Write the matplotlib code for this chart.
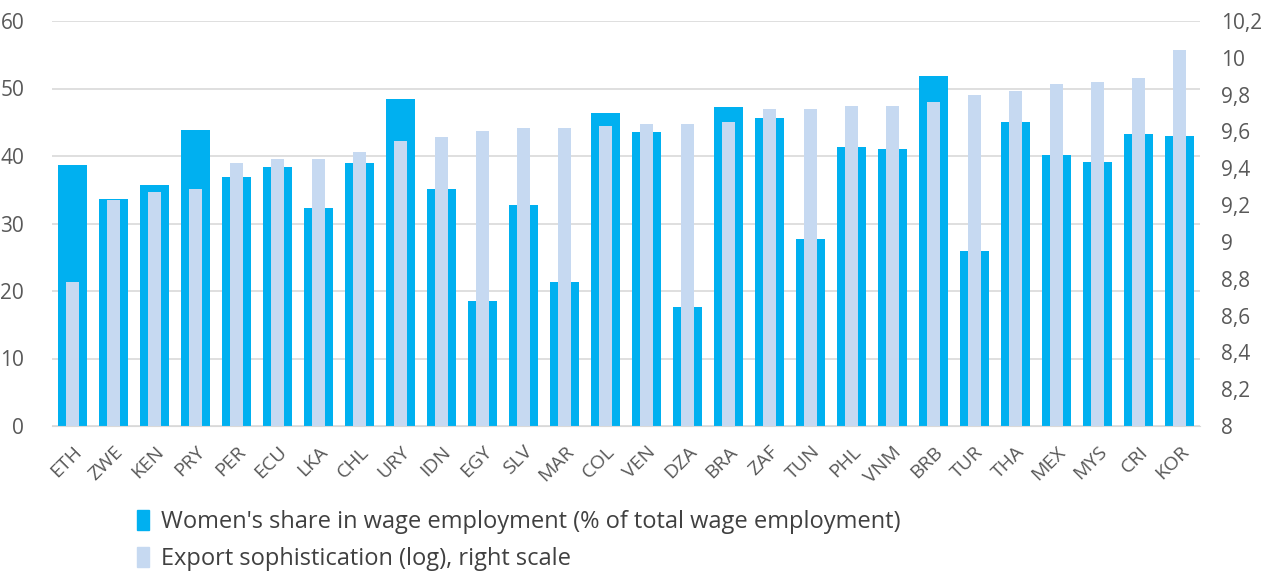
import numpy as np
import matplotlib.pyplot as plt
from matplotlib.ticker import FuncFormatter
from matplotlib.patches import Patch

plt.rcParams['font.family'] = ['Open Sans', 'DejaVu Sans']

# Countries and the two series
countries = ["ETH", "ZWE", "KEN", "PRY", "PER", "ECU", "LKA", "CHL", "URY", "IDN",
             "EGY", "SLV", "MAR", "COL", "VEN", "DZA", "BRA", "ZAF", "TUN", "PHL",
             "VNM", "BRB", "TUR", "THA", "MEX", "MYS", "CRI", "KOR"]
women_share = [38.7, 33.7, 35.7, 43.9, 36.9, 38.4, 32.3, 39.0, 48.4, 35.1,
               18.5, 32.7, 21.4, 46.3, 43.6, 17.6, 47.3, 45.6, 27.7, 41.4,
               41.0, 51.9, 25.9, 45.1, 40.2, 39.1, 43.3, 43.0]
export_soph = [8.78, 9.23, 9.27, 9.29, 9.43, 9.45, 9.45, 9.49, 9.55, 9.57,
               9.60, 9.62, 9.62, 9.63, 9.64, 9.64, 9.65, 9.72, 9.72, 9.74,
               9.74, 9.76, 9.80, 9.82, 9.86, 9.87, 9.89, 10.04]

dark = "#00B0F0"
light = "#C6D9F1"
tick_col = "#595959"

fig = plt.figure(figsize=(12.72, 5.78), dpi=100)
ax = fig.add_axes([52 / 1272, 152 / 578, 1148 / 1272, 405 / 578])
x = np.arange(len(countries))

ax.bar(x, women_share, width=0.71, color=dark, zorder=2)
ax.set_ylim(0, 60)
ax.set_yticks(np.arange(0, 61, 10))
ax.set_xlim(-0.5, len(countries) - 0.5)
ax.grid(axis="y", color="#D9D9D9", linewidth=1.2, zorder=0)
ax.set_axisbelow(True)

ax2 = ax.twinx()
ax2.bar(x, export_soph, width=0.32, color=light, zorder=3)
ax2.set_ylim(8, 10.2)
ax2.set_yticks(np.arange(8, 10.21, 0.2))
ax2.yaxis.set_major_formatter(FuncFormatter(lambda v, p: ("%g" % round(v, 1)).replace(".", ",")))

for a in (ax, ax2):
    for s in a.spines.values():
        s.set_visible(False)
    a.tick_params(length=0, labelsize=15, colors=tick_col)
ax.spines["bottom"].set_visible(True)
ax.spines["bottom"].set_color("#D9D9D9")
ax.tick_params(axis="y", pad=20)
ax2.tick_params(axis="y", pad=15)

ax.set_xticks(x)
ax.set_xticklabels(countries, rotation=45, ha="right", rotation_mode="anchor", fontsize=14)
ax.tick_params(axis="x", pad=12)

handles = [Patch(color=dark, label="Women's share in wage employment (% of total wage employment)"),
           Patch(color=light, label="Export sophistication (log), right scale")]
fig.legend(handles=handles, loc="lower left", bbox_to_anchor=(116 / 1272, -0.025), frameon=False,
           fontsize=17, handlelength=0.5, handleheight=0.9, handletextpad=0.5,
           labelspacing=0.55, labelcolor="#404040")

fig.savefig("out.png", dpi=100)
